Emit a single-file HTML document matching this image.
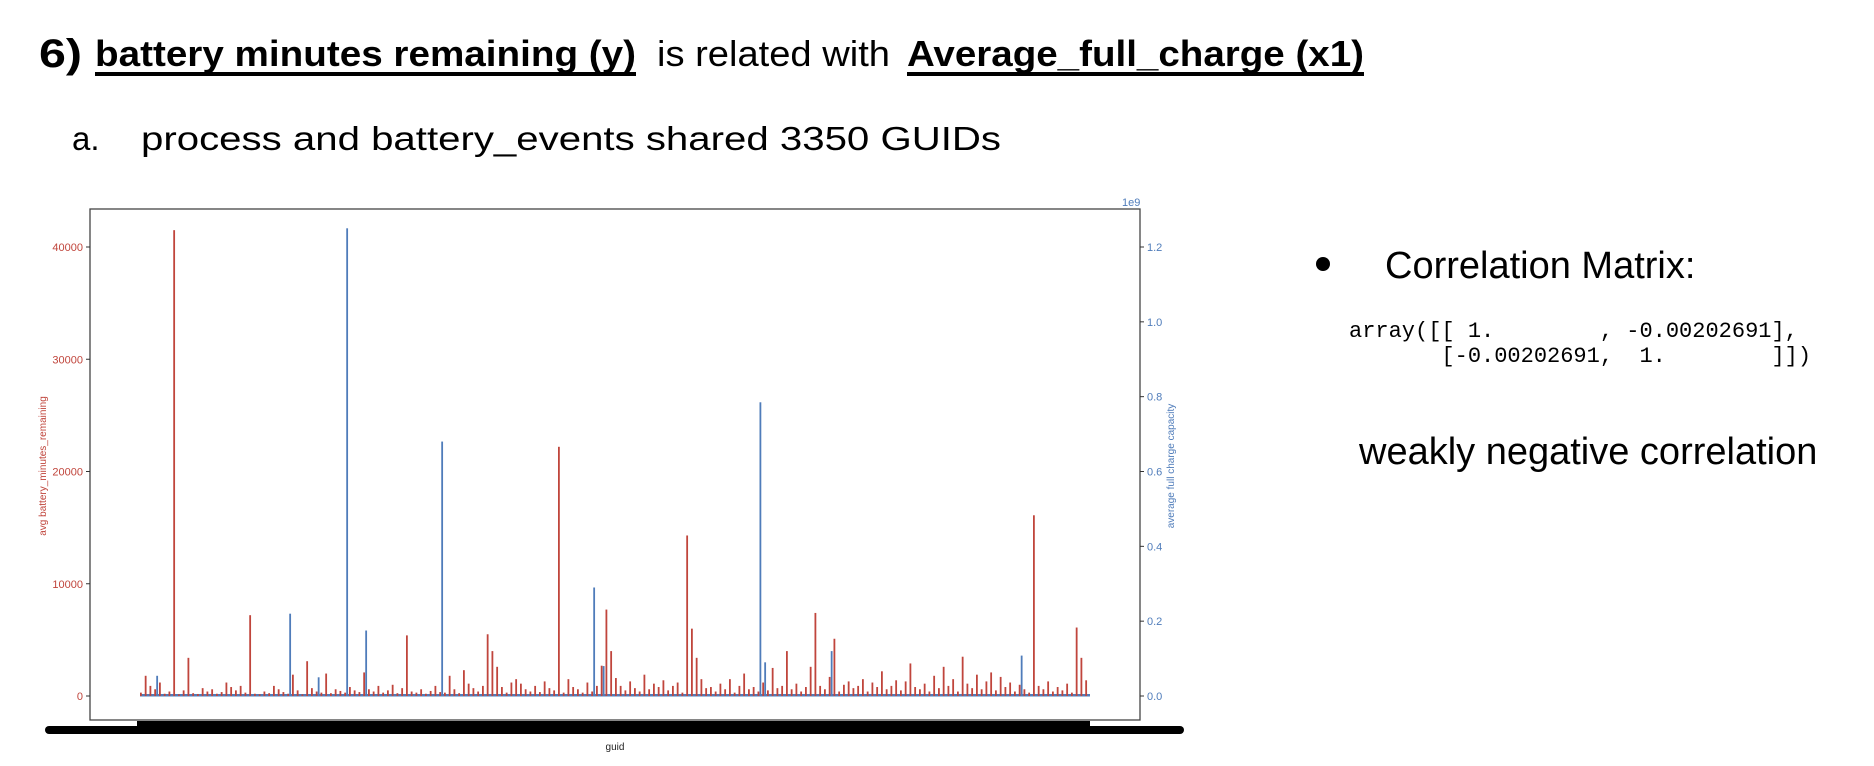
<!DOCTYPE html>
<html><head><meta charset="utf-8"><style>
html,body{margin:0;padding:0;background:#fff;}
svg{display:block;font-family:"Liberation Sans",Arial,sans-serif;}
</style></head><body>
<svg id="page" width="1874" height="766" viewBox="0 0 1874 766" xmlns="http://www.w3.org/2000/svg">
<g>
<text x="39" y="67" font-size="40" font-weight="bold" textLength="43" lengthAdjust="spacingAndGlyphs">6)</text>
<text x="95" y="66" font-size="36" font-weight="bold" textLength="541" lengthAdjust="spacingAndGlyphs">battery minutes remaining (y)</text>
<rect x="95" y="72" width="541" height="4" fill="#000"/>
<text x="657" y="66" font-size="36" textLength="233" lengthAdjust="spacingAndGlyphs">is related with</text>
<text x="907" y="66" font-size="36" font-weight="bold" textLength="457" lengthAdjust="spacingAndGlyphs">Average_full_charge (x1)</text>
<rect x="907" y="72" width="457" height="4" fill="#000"/>
</g>
<g>
<text x="72" y="150" font-size="33">a.</text>
<text x="141" y="150" font-size="33" textLength="860" lengthAdjust="spacingAndGlyphs">process and battery_events shared 3350 GUIDs</text>
</g>
<g>
<circle cx="1323" cy="264" r="7" fill="#000"/>
<text x="1385" y="278" font-size="38">Correlation Matrix:</text>
<text x="1349" y="337" font-size="22" font-family="Liberation Mono,monospace" xml:space="preserve">array([[ 1.        , -0.00202691],</text>
<text x="1349" y="362" font-size="22" font-family="Liberation Mono,monospace" xml:space="preserve">       [-0.00202691,  1.        ]])</text>
<text x="1359" y="464" font-size="38">weakly negative correlation</text>
</g>
<g id="chart"></g>
</svg>
<script>
const categories = Array.from({length:200},(_,i)=>'guid-'+i);
const redValues = [
300,1800,900,600,1200,200,400,41500,150,500,
3400,250,180,700,400,600,200,350,1200,800,
500,900,300,7200,200,150,400,250,900,600,
350,200,1900,500,150,3100,700,400,300,2000,
250,600,450,300,800,500,350,2100,600,400,
900,300,500,1000,250,700,5400,400,300,600,
200,450,900,350,300,1800,600,250,2300,1100,
700,400,900,5500,4000,2600,800,300,1200,1500,
1100,600,400,900,350,1300,700,500,22200,300,
1500,800,600,300,1200,400,900,2700,7700,4000,
1600,900,500,1300,700,400,1900,600,1100,800,
1400,500,900,1200,300,14300,6000,3400,1500,700,
800,400,1100,600,1500,300,900,2000,600,800,
400,1200,500,2500,700,900,4000,600,1100,400,
800,2600,7400,900,600,1700,5100,400,1000,1300,
700,900,1500,400,1200,800,2200,600,900,1400,
500,1300,2900,800,600,1100,400,1800,700,2600,
900,1500,400,3500,1100,700,1900,600,1300,2100,
500,1700,800,1200,400,1000,600,300,16100,900,
600,1300,400,800,500,1100,300,6100,3400,1400];
const blueIndex = [3,31,37,43,47,63,95,97,130,131,145,185];
const blueValue = [0.054,0.22,0.05,1.25,0.175,0.68,0.29,0.08,0.785,0.09,0.12,0.108];
const leftTicks = [0,10000,20000,30000,40000];
const rightTicks = [0.0,0.2,0.4,0.6,0.8,1.0,1.2];

const NS='http://www.w3.org/2000/svg';
const chart=document.getElementById('chart');
const RED='#c0453c', BLUE='#4f7cba';
const L=90,T=209,R=1140,B=720, Y0=696;
const yLeft=v=>Y0-v/10000*112.25;
const yRight=v=>Y0-v/1.2*449;
const xPos=i=>140+i*(950/categories.length);
function mk(tag,attrs,parent){const e=document.createElementNS(NS,tag);for(const k in attrs)e.setAttribute(k,attrs[k]);(parent||chart).appendChild(e);return e;}

const frame=mk('rect',{x:L,y:T,width:R-L,height:B-T,fill:'none',stroke:'#444','stroke-width':1.3});



const base=mk('rect',{x:xPos(0),y:Y0-2,width:950,height:2.5,fill:BLUE});



redValues.forEach((v,i)=>{
  const y=yLeft(v);
  const b=mk('rect',{x:xPos(i),y:y,width:1.8,height:Y0-y,fill:RED});
  
  
});
blueIndex.forEach((idx,k)=>{
  const y=yRight(blueValue[k]);
  const b=mk('rect',{x:xPos(idx)+2,y:y,width:1.8,height:Y0-y,fill:BLUE});
  
  
});

leftTicks.forEach(v=>{
  const y=yLeft(v);
  mk('line',{x1:L-4,x2:L,y1:y,y2:y,stroke:'#333'});
  const t=mk('text',{x:L-7,y:y+4,'font-size':11,fill:RED,'text-anchor':'end'});
  t.textContent=String(v);
  
  
});
rightTicks.forEach(v=>{
  const y=yRight(v);
  mk('line',{x1:R,x2:R+4,y1:y,y2:y,stroke:'#333'});
  const t=mk('text',{x:R+7,y:y+4,'font-size':11,fill:BLUE});
  t.textContent=v.toFixed(1);
  
  
});
const e9=mk('text',{x:R-18,y:T-3,'font-size':11,fill:BLUE});
e9.textContent='1e9';



const yl=mk('text',{x:0,y:0,'font-size':10,fill:RED,'text-anchor':'middle',transform:'translate(46,466) rotate(-90)'});
yl.textContent='avg battery_minutes_remaining';


const yr=mk('text',{x:0,y:0,'font-size':10,fill:BLUE,'text-anchor':'middle',transform:'translate(1174,466) rotate(-90)'});
yr.textContent='average full charge capacity';



const tk1=mk('rect',{x:137,y:721,width:953,height:5,fill:'#000'});


const tk2=mk('rect',{x:45,y:726,width:1139,height:8,rx:4,fill:'#000'});


const xl=mk('text',{x:615,y:750,'font-size':10,fill:'#222','text-anchor':'middle'});
xl.textContent='guid';


</script>
</body></html>
